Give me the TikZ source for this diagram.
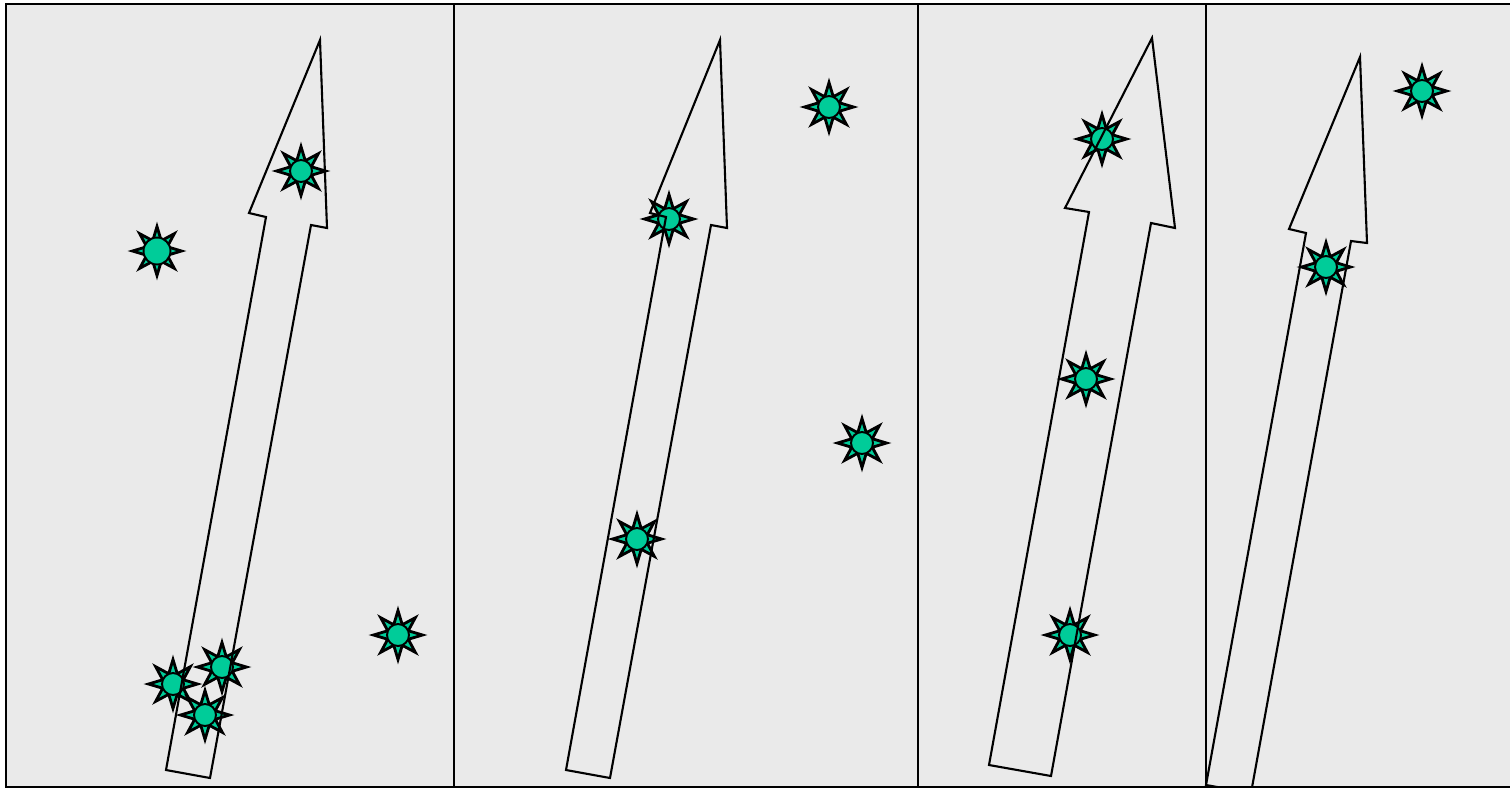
\documentclass[tikz,border=0pt]{standalone}
\usetikzlibrary{shapes.geometric}
\definecolor{paper}{RGB}{234,234,234}
\definecolor{sea}{RGB}{0,204,153}
\newcommand{\spot}[3][]{\node (#2-ray) [ray] at #3 {}; \node (#2) [disc, #1] at #3 {};}
\tikzstyle{ray} = [star, star points=8, star point ratio=2.2, minimum size=0.98cm, inner sep=0pt, fill=sea, draw=black, line width=1.6pt, line join=miter]
\tikzstyle{disc} = [circle, minimum size=0.44cm, inner sep=0pt, fill=sea, draw=black, line width=1.1pt]
\tikzstyle{big} = [minimum size=0.54cm]
\tikzstyle{shaft} = [draw=black, line width=1.2pt]
\tikzstyle{frame} = [draw=black, line width=1.3pt]

\begin{document}
\begin{tikzpicture}[x=0.02cm, y=-0.02cm]
	\useasboundingbox (0,0) rectangle (1510,789);
	\clip (0,0) rectangle (1510,789);
	\fill[paper] (6,4) rectangle (1514,787);

	% first panel
	\spot[big]{a1}{(157,251)}
	\spot{a2}{(301,171)}
	\spot{a3}{(398,635)}
	\spot{a4}{(222,667)}
	\spot{a5}{(173,684)}
	\spot{a6}{(205,715)}
	\draw[shaft] (320,40) -- (327,228) -- (311,225) -- (210,778) -- (166,770) -- (266,217) -- (249,213) -- cycle;

	% second panel
	\spot{b1}{(829,107)}
	\spot{b2}{(669,219)}
	\spot{b3}{(862,443)}
	\spot{b4}{(637,539)}
	\draw[shaft] (720,40) -- (727,228) -- (711,225) -- (610,778) -- (566,770) -- (666,217) -- (650,213) -- cycle;

	% third panel
	\spot{c1}{(1102,139)}
	\spot{c2}{(1086,379)}
	\spot{c3}{(1070,635)}
	\draw[shaft] (1152,38) -- (1175,228) -- (1151,223) -- (1051,776) -- (989,765) -- (1089,212) -- (1065,208) -- cycle;

	% fourth panel
	\spot{d1}{(1422,91)}
	\spot{d2}{(1326,267)}
	\begin{scope}
		\clip (1200,0) rectangle (1510,787);
		\draw[shaft] (1360,57) -- (1367,243) -- (1351,241) -- (1251,793) -- (1206,785) -- (1306,233) -- (1289,229) -- cycle;
	\end{scope}

	\draw[frame] (454,4) -- (454,787);
	\draw[frame] (918,4) -- (918,787);
	\draw[frame] (1206,4) -- (1206,787);
	\draw[frame] (6,4) rectangle (1514,787);
\end{tikzpicture}
\end{document}
